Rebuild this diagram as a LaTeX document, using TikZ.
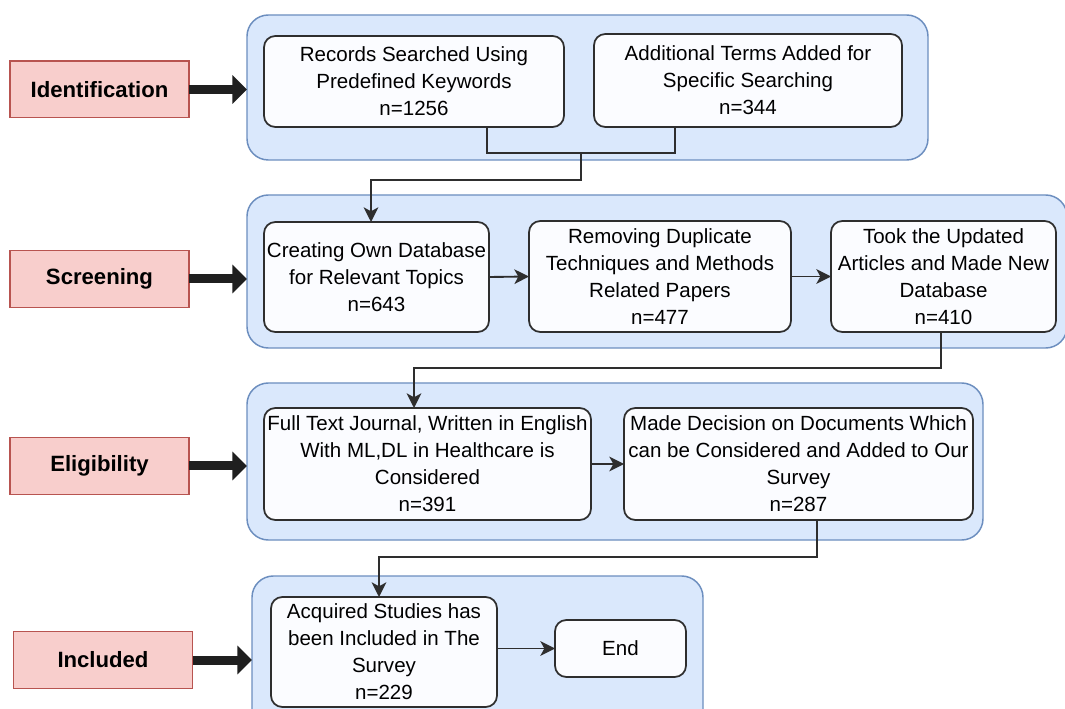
\documentclass[tikz,border=0pt]{standalone}
\usepackage{fontspec}
\setmainfont{Liberation Sans}
\usetikzlibrary{arrows.meta,calc}
\definecolor{grpfill}{HTML}{DAE8FC}
\definecolor{grpline}{HTML}{6C8EBF}
\definecolor{tagfill}{HTML}{F8CECC}
\definecolor{tagline}{HTML}{B85450}
\definecolor{boxline}{HTML}{2E2E2E}
\definecolor{boxfill}{HTML}{FBFCFF}
\begin{document}
\begin{tikzpicture}[x=0.75pt,y=-0.75pt,
  group/.style={draw=grpline, fill=grpfill, line width=1.1pt, rounded corners=16pt,
    inner sep=0pt, outer sep=0pt},
  stage/.style={draw=tagline, fill=tagfill, line width=1pt, inner sep=0pt, outer sep=0pt,
    minimum width=134.25pt, minimum height=42.5pt,
    font=\fontsize{16.6}{20}\selectfont\bfseries},
  stepbox/.style={draw=boxline, fill=boxfill, line width=1.3pt, rounded corners=8.5pt,
    inner sep=0pt, outer sep=0pt, align=center, font=\fontsize{15.4}{20.25}\selectfont},
  conn/.style={draw=boxline, line width=1.4pt},
  arr/.style={conn, -{Stealth[length=11pt,width=11pt,inset=3pt]}},
  bigarr/.style={draw=black!88, line width=6.75pt, -{Triangle[length=11pt,width=21pt]}}]
\clip (0,0) rectangle (1065,709);
\fill[white] (0,0) rectangle (1065,709);

% stage groups
\node[group, minimum width=510.75pt, minimum height=108.75pt] (g1) at (587.5,87.5) {};
\node[group, minimum width=615pt, minimum height=114.75pt] (g2) at (657,271.5) {};
\node[group, minimum width=552pt, minimum height=117.75pt] (g3) at (615,461.5) {};
\node[group, minimum width=338.25pt, minimum height=123pt] (g4) at (477.5,658) {};

% stage labels
\node[stage] (lid) at (99.5,89.5) {Identification};
\node[stage] (lsc) at (99.5,279) {Screening};
\node[stage] (lel) at (99.5,466) {Eligibility};
\node[stage] (lin) at (103,660) {Included};

% process steps
\node[stepbox, minimum width=225pt, minimum height=68.25pt] (a1) at (414,81.5)
  {Records Searched Using\\Predefined Keywords\\n=1256};
\node[stepbox, minimum width=231pt, minimum height=69.75pt] (a2) at (748,80.5)
  {Additional Terms Added for\\Specific Searching\\n=344};
\node[stepbox, minimum width=168.75pt, minimum height=82.5pt] (b1) at (376.5,277)
  {Creating Own Database\\for Relevant Topics\\n=643};
\node[stepbox, minimum width=196.5pt, minimum height=83.25pt] (b2) at (660,276.5)
  {Removing Duplicate\\Techniques and Methods\\Related Papers\\n=477};
\node[stepbox, minimum width=168.75pt, minimum height=83.25pt] (b3) at (943.5,276.5)
  {Took the Updated\\Articles and Made New\\Database\\n=410};
\node[stepbox, minimum width=245.25pt, minimum height=84pt] (c1) at (427.5,464)
  {Full Text Journal, Written in English\\With ML,DL in Healthcare is\\Considered\\n=391};
\node[stepbox, minimum width=261.75pt, minimum height=84pt] (c2) at (798.5,464)
  {Made Decision on Documents Which\\can be Considered and Added to Our\\Survey\\n=287};
\node[stepbox, minimum width=169.5pt, minimum height=82.5pt] (d1) at (384,652)
  {Acquired Studies has\\been Included in The\\Survey\\n=229};
\node[stepbox, minimum width=98.25pt, minimum height=42.75pt] (d2) at (620.5,648.5) {End};

% stage arrows
\draw[bigarr] (lid.east) -- (lid.east -| g1.west);
\draw[bigarr] (lsc.east) -- (lsc.east -| g2.west);
\draw[bigarr] (lel.east) -- (lel.east -| g3.west);
\draw[bigarr] (lin.east) -- (lin.east -| g4.west);

% connectors
\coordinate (m1) at (581,153);
\draw[conn] ($(a1.south)+(73,0)$) |- (m1) -| ($(a2.south)+(-73,0)$);
\draw[arr] (m1) -- ++(0,27) -| ($(b1.north)+(-5.5,0)$);
\draw[arr] (b1.east) -- (b2.west);
\draw[arr] (b2.east) -- (b3.west);
\draw[arr] ($(b3.south)+(-2.5,0)$) -- ++(0,36) -| ($(c1.north)+(-13.5,0)$);
\draw[arr] (c1.east) -- (c2.west);
\draw[arr] ($(c2.south)+(18.5,0)$) -- ++(0,37) -| ($(d1.north)+(-5,0)$);
\draw[arr] (d1.east |- d2.west) -- (d2.west);
\end{tikzpicture}
\end{document}
